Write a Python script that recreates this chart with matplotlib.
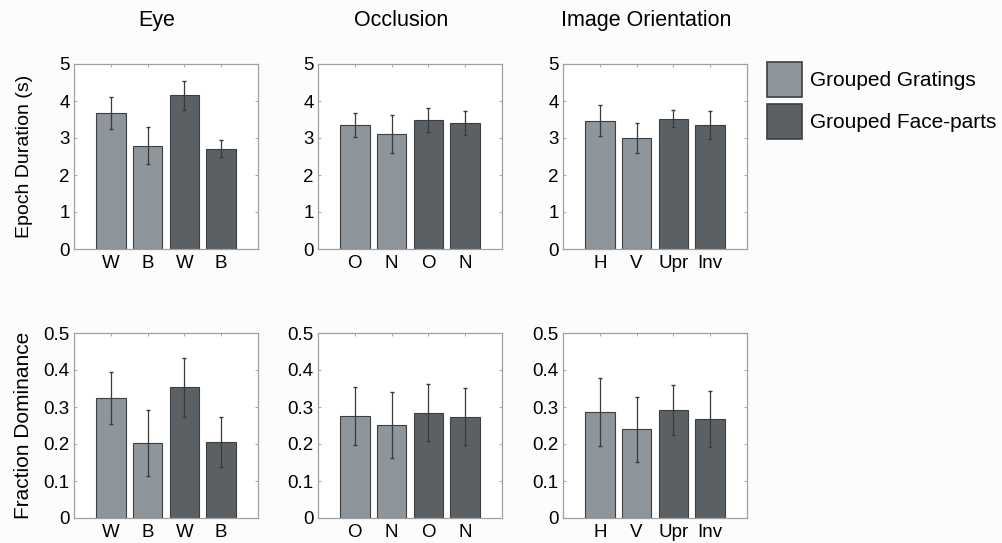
import matplotlib
matplotlib.use('Agg')
import matplotlib.pyplot as plt
from matplotlib.patches import Patch
import numpy as np

plt.rcParams['font.family'] = ['Liberation Sans', 'DejaVu Sans']

titles = ['Eye', 'Occlusion', 'Image Orientation']
tick_labels = [['W', 'B', 'W', 'B'], ['O', 'N', 'O', 'N'], ['H', 'V', 'Upr', 'Inv']]

# epoch duration (s), mean and error
dur_mean = [[3.68, 2.79, 4.16, 2.71],
            [3.35, 3.11, 3.49, 3.40],
            [3.47, 3.00, 3.52, 3.35]]
dur_err = [[0.43, 0.50, 0.39, 0.23],
           [0.33, 0.52, 0.33, 0.33],
           [0.42, 0.40, 0.23, 0.39]]

# fraction dominance, mean and error
frac_mean = [[0.325, 0.203, 0.353, 0.206],
             [0.276, 0.251, 0.285, 0.274],
             [0.287, 0.240, 0.291, 0.267]]
frac_err = [[0.070, 0.090, 0.080, 0.067],
            [0.078, 0.090, 0.078, 0.078],
            [0.092, 0.088, 0.068, 0.075]]

legend_labels = ['Grouped Gratings', 'Grouped Face-parts']
light = '#8e959b'
dark = '#5b6065'
bar_colors = [light, light, dark, dark]

W, H = 1003, 543
fig = plt.figure(figsize=(W / 100, H / 100), dpi=100, facecolor='#fcfcfd')

lefts = [74, 318, 563]
rows = [(249, dur_mean, dur_err, 5, [0, 1, 2, 3, 4, 5], ['0', '1', '2', '3', '4', '5'], 'Epoch Duration (s)', 14),
        (518, frac_mean, frac_err, 0.5, [0, 0.1, 0.2, 0.3, 0.4, 0.5], ['0', '0.1', '0.2', '0.3', '0.4', '0.5'], 'Fraction Dominance', 15)]

for r, (bottom, means, errs, ymax, yt, ytl, ylab, ylab_size) in enumerate(rows):
    for c in range(3):
        ax = fig.add_axes([lefts[c] / W, 1 - bottom / H, 184 / W, 185 / H])
        ax.set_facecolor('white')
        x = np.arange(1, 5)
        ax.bar(x, means[c], width=0.8, color=bar_colors, edgecolor='#3c3f42', linewidth=0.8, zorder=2)
        ax.errorbar(x, means[c], yerr=errs[c], fmt='none', ecolor='#3a3a3a', elinewidth=0.9, capsize=1.2, zorder=3)
        ax.set_xlim(0, 5)
        ax.set_ylim(0, ymax)
        ax.set_xticks(x)
        ax.set_xticklabels(tick_labels[c])
        ax.set_yticks(yt)
        ax.set_yticklabels(ytl)
        ax.tick_params(direction='in', length=2.5, width=0.6, color='#999999', labelsize=13.5,
                       top=True, right=True, pad=3)
        ax.tick_params(axis='x', pad=4)
        for s in ax.spines.values():
            s.set_color('#a0a0a0')
            s.set_linewidth(0.9)
        if c == 0:
            ax.set_ylabel(ylab, fontsize=ylab_size)
            ax.yaxis.set_label_coords(-0.225, 0.5)
        if r == 0:
            ax.text(0.45, 1.235, titles[c], transform=ax.transAxes, ha='center', va='center', fontsize=15.5)

handles = [Patch(facecolor=light, edgecolor='#3c3f42', linewidth=1.2),
           Patch(facecolor=dark, edgecolor='#3c3f42', linewidth=1.2)]
fig.legend(handles, legend_labels, loc='upper left', bbox_to_anchor=(767 / W, 1 - 62 / H),
           frameon=False, fontsize=15, handlelength=1.7, handleheight=2.2,
           handletextpad=0.35, labelspacing=0.33, borderpad=0, borderaxespad=0)

fig.savefig('out.png', dpi=100, facecolor=fig.get_facecolor())
